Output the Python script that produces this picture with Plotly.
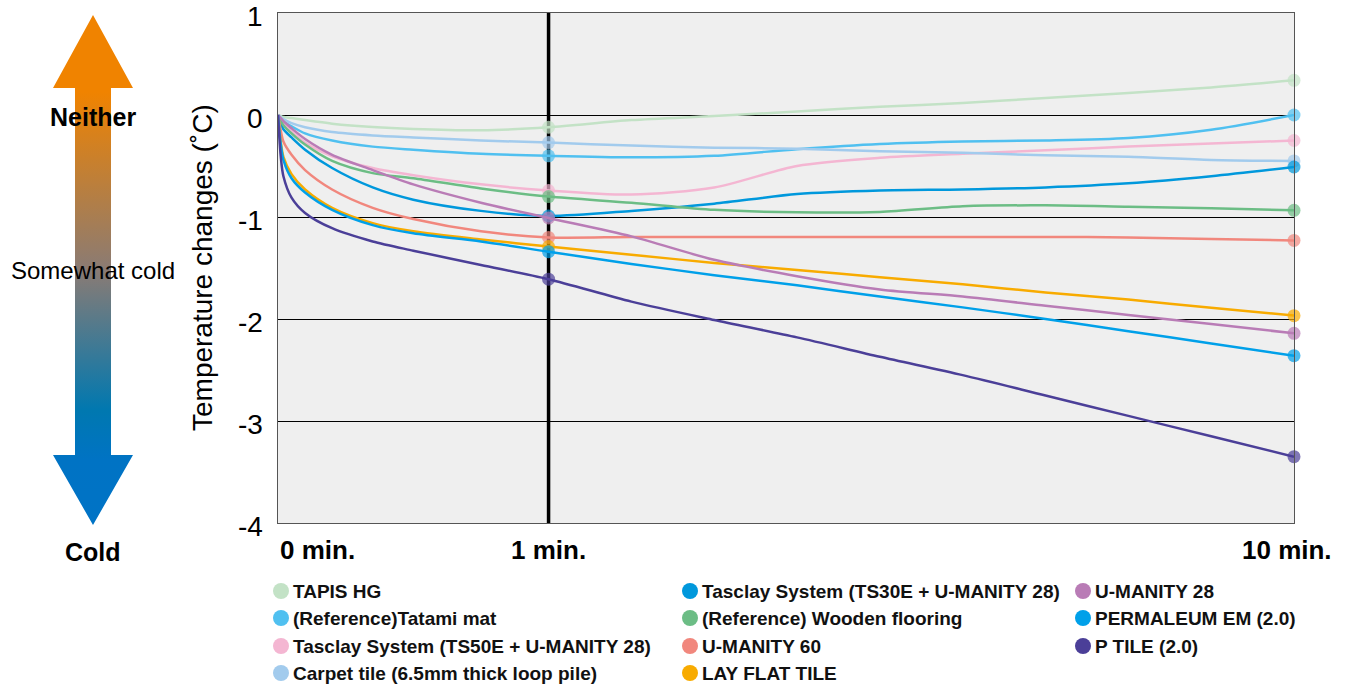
import base64
import plotly.graph_objects as go

# ---------------- data ----------------
minutes = [0, 0.01, 0.02, 0.05, 0.1, 0.2, 0.35, 0.5, 0.75, 1, 2, 3, 4, 5, 6, 7, 8, 9, 10]

series_names = [
    "TAPIS HG",
    "(Reference)Tatami mat",
    "Tasclay System (TS50E + U-MANITY 28)",
    "Carpet tile (6.5mm thick loop pile)",
    "Tasclay System (TS30E + U-MANITY 28)",
    "(Reference) Wooden flooring",
    "U-MANITY 60",
    "LAY FLAT TILE",
    "U-MANITY 28",
    "PERMALEUM EM (2.0)",
    "P TILE (2.0)",
]

tapis_hg = [0, -0.01, -0.02, -0.03, -0.05, -0.085, -0.118, -0.137, -0.15, -0.12,
            -0.05, -0.01, 0.035, 0.08, 0.118, 0.167, 0.216, 0.27, 0.34]
tatami_mat = [0, -0.035, -0.06, -0.11, -0.18, -0.25, -0.31, -0.34, -0.38, -0.40,
              -0.415, -0.40, -0.335, -0.285, -0.26, -0.25, -0.225, -0.144, 0.0]
tasclay_ts50e = [0, -0.055, -0.095, -0.16, -0.27, -0.405, -0.52, -0.59, -0.68, -0.74,
                 -0.78, -0.71, -0.50, -0.42, -0.38, -0.346, -0.31, -0.28, -0.25]
carpet_tile = [0, -0.02, -0.04, -0.08, -0.12, -0.167, -0.20, -0.22, -0.25, -0.27,
               -0.30, -0.32, -0.33, -0.355, -0.37, -0.395, -0.41, -0.44, -0.45]
tasclay_ts30e = [0, -0.08, -0.14, -0.22, -0.34, -0.52, -0.71, -0.83, -0.94, -0.99,
                 -0.94, -0.87, -0.775, -0.74, -0.73, -0.71, -0.67, -0.60, -0.51]
wooden_flooring = [0, -0.06, -0.10, -0.18, -0.29, -0.45, -0.57, -0.62, -0.72, -0.80,
                   -0.86, -0.93, -0.954, -0.95, -0.895, -0.886, -0.90, -0.915, -0.935]
u_manity_60 = [0, -0.15, -0.26, -0.39, -0.54, -0.73, -0.91, -1.02, -1.14, -1.20,
               -1.196, -1.196, -1.196, -1.196, -1.196, -1.196, -1.20, -1.216, -1.23]
lay_flat_tile = [0, -0.26, -0.41, -0.58, -0.73, -0.91, -1.06, -1.14, -1.22, -1.29,
                 -1.37, -1.45, -1.52, -1.59, -1.66, -1.74, -1.81, -1.89, -1.967]
u_manity_28 = [0, -0.03, -0.06, -0.13, -0.235, -0.39, -0.54, -0.68, -0.86, -1.01,
               -1.19, -1.42, -1.58, -1.71, -1.78, -1.87, -1.96, -2.05, -2.14]
permaleum_em = [0, -0.28, -0.44, -0.62, -0.76, -0.93, -1.08, -1.16, -1.24, -1.34,
                -1.46, -1.57, -1.67, -1.78, -1.886, -2.0, -2.12, -2.24, -2.36]
p_tile = [0, -0.40, -0.60, -0.81, -0.96, -1.11, -1.24, -1.33, -1.47, -1.61,
          -1.83, -2.01, -2.18, -2.37, -2.55, -2.75, -2.95, -3.15, -3.35]

series_values = [tapis_hg, tatami_mat, tasclay_ts50e, carpet_tile, tasclay_ts30e,
                 wooden_flooring, u_manity_60, lay_flat_tile, u_manity_28,
                 permaleum_em, p_tile]

series_colors = ["#c3e2c6", "#50c0f0", "#f4b6d2", "#a2cbed", "#0098dc", "#6cbd85",
                 "#f1877d", "#f8ab00", "#b97cb6", "#00a0e9", "#4b3f98"]

marked_minutes = [1, 10]
x_tick_minutes = [0, 1, 10]
x_tick_labels = ["0 min.", "1 min.", "10 min."]
y_ticks = [1, 0, -1, -2, -3, -4]

# ---------------- scale: first minute is stretched ----------------
LATER_SCALE = (1293.7 - 548.7) / (9 * 270.4)


def axis_pos(t):
    return t if t <= 1 else 1 + (t - 1) * LATER_SCALE


FONT = "Liberation Sans, Arial, Helvetica, sans-serif"

# plot area in pixels
W, H = 1353, 684
L, R, T, B = 278, 1294, 13, 523
PW, PH = R - L, B - T


def px(xp):
    return (xp - L) / PW


def py(yp):
    return (B - yp) / PH


fig = go.Figure()

xs = [axis_pos(t) for t in minutes]
for name, vals, col in zip(series_names, series_values, series_colors):
    sizes = [13 if t in marked_minutes else 0 for t in minutes]
    fig.add_trace(go.Scatter(
        x=xs, y=vals, name=name, mode="lines+markers", cliponaxis=False,
        line=dict(color=col, width=2.5, shape="spline", smoothing=0.8),
        marker=dict(color=col, size=sizes, line=dict(width=0)),
        showlegend=False,
        hovertemplate=name + "<br>%{y:.2f} °C<extra></extra>",
    ))

# vertical 1-minute line
fig.add_shape(type="line", xref="x", yref="paper", x0=axis_pos(1), x1=axis_pos(1),
              y0=0, y1=1, line=dict(color="black", width=3.5), layer="between")

# ---------------- left gradient arrow (SVG image) ----------------
svg = """<svg xmlns='http://www.w3.org/2000/svg' width='90' height='520' viewBox='0 0 90 520' preserveAspectRatio='none'>
<defs><linearGradient id='g' gradientUnits='userSpaceOnUse' x1='0' y1='0' x2='0' y2='520'>
<stop offset='0' stop-color='#f08300'/>
<stop offset='0.158' stop-color='#f08300'/>
<stop offset='0.5' stop-color='#8a7b74'/>
<stop offset='0.77' stop-color='#0078b0'/>
<stop offset='0.865' stop-color='#0073c4'/>
<stop offset='1' stop-color='#0073c6'/>
</linearGradient></defs>
<path d='M43,5 L83,78 L61,78 L61,445 L83,445 L43,515 L3,445 L25,445 L25,78 L3,78 Z' fill='url(#g)'/>
</svg>"""
src = "data:image/svg+xml;base64," + base64.b64encode(svg.encode()).decode()
fig.add_layout_image(dict(source=src, xref="paper", yref="paper",
                          x=px(50), y=py(10), sizex=90 / PW, sizey=520 / PH,
                          xanchor="left", yanchor="top", sizing="stretch", layer="above"))

ann = []
for txt, yy, size, wt in [("Neither", 117, 25, "bold"), ("Somewhat cold", 270, 24, "normal"),
                          ("Cold", 552, 25, "bold")]:
    ann.append(dict(text=txt, xref="paper", yref="paper", x=px(93), y=py(yy),
                    xanchor="center", yanchor="middle", showarrow=False,
                    font=dict(family=FONT, size=size, color="black", weight=wt)))

# y tick labels (sit a little below their gridlines, as in the reference)
for v in y_ticks:
    ann.append(dict(text=str(v), xref="paper", yref="y", x=px(265), y=v,
                    xanchor="right", yanchor="middle", yshift=-3, showarrow=False,
                    font=dict(family=FONT, size=28, color="black")))

# x tick labels
for t, lab in zip(x_tick_minutes, x_tick_labels):
    if t == 0:
        ann.append(dict(text=lab, xref="paper", yref="paper", x=0, y=py(550),
                        xanchor="left", yanchor="middle", showarrow=False,
                        font=dict(family=FONT, size=26, color="black", weight="bold")))
    else:
        ann.append(dict(text=lab, xref="x", yref="paper", x=axis_pos(t), y=py(550),
                        xanchor="center", yanchor="middle", showarrow=False,
                        xshift=-7 if t == 10 else 0,
                        font=dict(family=FONT, size=26, color="black", weight="bold")))

# y title
ann.append(dict(text="Temperature changes (˚C)", xref="paper", yref="paper",
                x=px(202), y=py(268), textangle=-90, xanchor="center", yanchor="middle",
                showarrow=False, font=dict(family=FONT, size=28, color="black")))

# ---------------- manual legend (3 columns) ----------------
col_x = [281, 690, 1083]
row_y = [591, 618, 646, 673]
legend_cols = [[0, 1, 2, 3], [4, 5, 6, 7], [8, 9, 10]]
shapes = []
for ci, idxs in enumerate(legend_cols):
    for ri, si in enumerate(idxs):
        cx, cy = col_x[ci], row_y[ri]
        r = 8
        shapes.append(dict(type="circle", xref="paper", yref="paper",
                           x0=px(cx - r), x1=px(cx + r), y0=py(cy + r), y1=py(cy - r),
                           fillcolor=series_colors[si], line=dict(width=0)))
        ann.append(dict(text=series_names[si], xref="paper", yref="paper",
                        x=px(cx + 10), y=py(cy), xanchor="left", yanchor="middle",
                        showarrow=False,
                        font=dict(family=FONT, size=19, color="#111", weight="bold")))

for s in shapes:
    fig.add_shape(**s)

fig.update_layout(
    width=W, height=H,
    margin=dict(l=L, r=W - R, t=T, b=H - B, autoexpand=False),
    paper_bgcolor="white", plot_bgcolor="#efefef",
    annotations=ann,
    font=dict(family=FONT, color="black"),
    showlegend=False,
)
fig.update_xaxes(range=[0, axis_pos(10)], showgrid=False, zeroline=False,
                 showticklabels=False, ticks="", showline=True, mirror=True,
                 linecolor="#555", linewidth=1)
fig.update_yaxes(range=[-4, 1], tickvals=y_ticks, showticklabels=False,
                 showgrid=True, gridcolor="black", gridwidth=1, zeroline=False,
                 ticks="", showline=True, mirror=True, linecolor="#555", linewidth=1)

fig.write_html("out.html", config={"displayModeBar": False},
               post_script="document.body.style.margin='0';document.body.style.overflow='hidden';")
